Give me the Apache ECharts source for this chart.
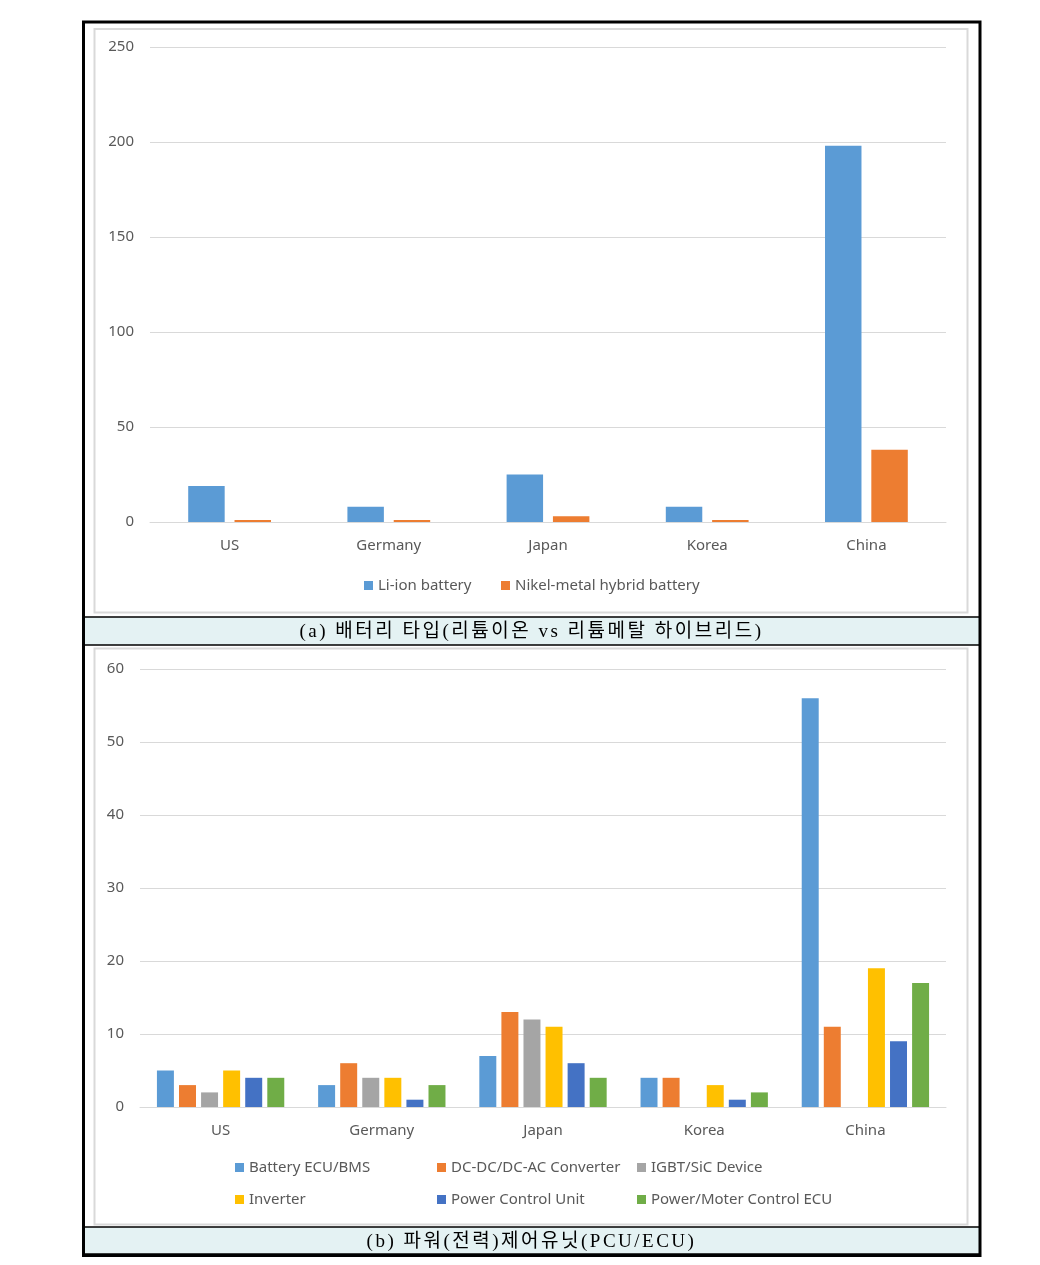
<!DOCTYPE html>
<html>
<head>
<meta charset="utf-8">
<script src="https://cdn.jsdelivr.net/npm/echarts@6/dist/echarts.min.js"></script>
<style>
  html, body { margin: 0; padding: 0; background: #ffffff; }
  #wrap { position: relative; width: 1040px; height: 1265px; }
  #chart { width: 1040px; height: 1265px; }
  .cap { position: absolute; left: 83px; width: 897px; text-align: center;
         font-family: "Liberation Serif", "DejaVu Serif", "Noto Sans CJK KR", serif;
         font-size: 19px; color: #000; letter-spacing: 2.5px; white-space: nowrap; }
</style>
</head>
<body>
<div id="wrap">
  <div id="chart"></div>
  <div class="cap" id="capA" style="top:617px;height:28px;line-height:28px;"></div>
  <div class="cap" id="capB" style="top:1227px;height:27px;line-height:27px;"></div>
</div>
<script>
// ---- Data ----
const countries = ['US', 'Germany', 'Japan', 'Korea', 'China'];

// (a) battery type
const batteryTicks = [0, 50, 100, 150, 200, 250];
const liIonBattery = [19, 8, 25, 8, 198];
const nikelMetalHybrid = [1, 1, 3, 1, 38];

// (b) power control unit
const pcuTicks = [0, 10, 20, 30, 40, 50, 60];
const batteryEcuBms = [5, 3, 7, 4, 56];
const dcdcConverter = [3, 6, 13, 4, 11];
const igbtSicDevice = [2, 4, 12, 0, 0];
const inverter = [5, 4, 11, 3, 19];
const powerControlUnit = [4, 1, 6, 1, 9];
const powerMoterControlEcu = [4, 3, 4, 2, 17];

const captionA = '(a) 배터리 타입(리튬이온 vs 리튬메탈 하이브리드)';
const captionB = '(b) 파워(전력)제어유닛(PCU/ECU)';

document.getElementById('capA').textContent = captionA;
document.getElementById('capB').textContent = captionB;

// ---- Styles ----
const txt = '#595959';
const gridColor = '#d9d9d9';
const font = '"Noto Sans", "Open Sans", sans-serif';

const chart = echarts.init(document.getElementById('chart'), null, { renderer: 'canvas' });

function catAxis(gridIndex) {
  return {
    type: 'category', gridIndex, data: countries,
    axisLine: { lineStyle: { color: gridColor, width: 1 } },
    axisTick: { show: false },
    axisLabel: { color: txt, fontSize: 15, fontFamily: font, margin: 16 }
  };
}
function valAxis(gridIndex, max, interval) {
  return {
    type: 'value', gridIndex, min: 0, max, interval,
    axisLine: { show: false }, axisTick: { show: false },
    splitLine: { lineStyle: { color: gridColor, width: 1 } },
    axisLabel: { color: txt, fontSize: 15, fontFamily: font, margin: 16 }
  };
}
function legendItem(name, left, top) {
  return {
    data: [name], left, top, padding: 0, icon: 'rect',
    itemWidth: 9, itemHeight: 9, itemGap: 0,
    textStyle: { color: txt, fontSize: 15, fontFamily: font }
  };
}
function bar(name, data, color, axisIdx, gap, catGap) {
  return {
    name, type: 'bar', data, xAxisIndex: axisIdx, yAxisIndex: axisIdx,
    itemStyle: { color }, barGap: gap, barCategoryGap: catGap,
    animation: false
  };
}

const option = {
  animation: false,
  grid: [
    { left: 150, width: 796, top: 47, height: 475 },
    { left: 140, width: 806, top: 669, height: 438 }
  ],
  xAxis: [catAxis(0), catAxis(1)],
  yAxis: [valAxis(0, batteryTicks[batteryTicks.length - 1], 50),
          valAxis(1, pcuTicks[pcuTicks.length - 1], 10)],
  legend: [
    legendItem('Li-ion battery', 364, 578),
    legendItem('Nikel-metal hybrid battery', 501, 578),
    legendItem('Battery ECU/BMS', 235, 1160),
    legendItem('DC-DC/DC-AC Converter', 437, 1160),
    legendItem('IGBT/SiC Device', 637, 1160),
    legendItem('Inverter', 235, 1192),
    legendItem('Power Control Unit', 437, 1192),
    legendItem('Power/Moter Control ECU', 637, 1192)
  ],
  series: [
    bar('Li-ion battery', liIonBattery, '#5B9BD5', 0, '27%', '48%'),
    bar('Nikel-metal hybrid battery', nikelMetalHybrid, '#ED7D31', 0, '27%', '48%'),
    bar('Battery ECU/BMS', batteryEcuBms, '#5B9BD5', 1, '30%', '21%'),
    bar('DC-DC/DC-AC Converter', dcdcConverter, '#ED7D31', 1, '30%', '21%'),
    bar('IGBT/SiC Device', igbtSicDevice, '#A5A5A5', 1, '30%', '21%'),
    bar('Inverter', inverter, '#FFC000', 1, '30%', '21%'),
    bar('Power Control Unit', powerControlUnit, '#4472C4', 1, '30%', '21%'),
    bar('Power/Moter Control ECU', powerMoterControlEcu, '#70AD47', 1, '30%', '21%')
  ],
  graphic: [
    // chart frames (light grey)
    { type: 'rect', shape: { x: 94.5, y: 29, width: 873, height: 583.5 }, style: { fill: null, stroke: '#d9d9d9', lineWidth: 2 }, z: -1 },
    { type: 'rect', shape: { x: 94.5, y: 648.5, width: 873, height: 576 }, style: { fill: null, stroke: '#d9d9d9', lineWidth: 2 }, z: -1 },
    // caption strips
    { type: 'rect', shape: { x: 83, y: 617, width: 897, height: 28 }, style: { fill: '#e4f2f3', stroke: '#000', lineWidth: 1.5 } },
    { type: 'rect', shape: { x: 83, y: 1227, width: 897, height: 27 }, style: { fill: '#e4f2f3', stroke: '#000', lineWidth: 1.5 } },
    // outer border
    { type: 'rect', shape: { x: 83.5, y: 22, width: 896.5, height: 1233.5 }, style: { fill: null, stroke: '#000', lineWidth: 3 } }
  ]
};
chart.setOption(option);
</script>
</body>
</html>
